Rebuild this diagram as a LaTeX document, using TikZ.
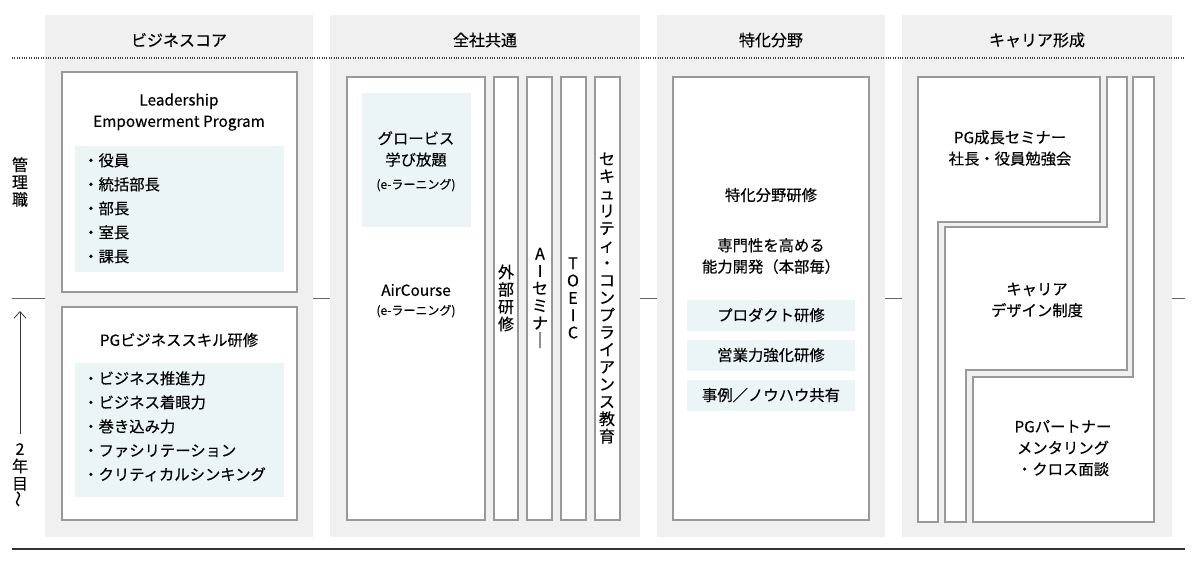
\documentclass[tikz,border=0pt]{standalone}
\usepackage{fontspec}
\usetikzlibrary{arrows.meta}
\setmainfont{Noto Sans CJK JP}[FakeBold=0.35]
\begin{document}
\begin{tikzpicture}[x=0.75pt,y=-0.75pt,
  colbg/.style={fill=black!6,draw=none},
  wbox/.style={fill=white,draw=black!40,line width=0.9pt},
  tbox/.style={fill=teal!8,draw=none},
  txt/.style={font=\fontsize{11.5}{16}\selectfont,align=center,inner sep=0pt},
  bl/.style={font=\fontsize{11.5}{18}\selectfont,align=left,anchor=north west,inner sep=0pt},
  sm/.style={font=\fontsize{9}{10}\selectfont,inner sep=0pt},
  vt/.style={font=\fontsize{12}{13}\selectfont,align=center,inner sep=0pt},
  hd/.style={font=\fontsize{12}{14}\selectfont,inner sep=0pt}]
\useasboundingbox (0,0) rectangle (1200,562);
\fill[white] (0,0) rectangle (1200,562);
% column backgrounds
\fill[colbg] (45,15) rectangle (313,537);
\fill[colbg] (330,15) rectangle (640,537);
\fill[colbg] (657,15) rectangle (885,537);
\fill[colbg] (902,15) rectangle (1172,537);
\node[hd] (h1) at (179,40) {ビジネスコア};
\node[hd] (h2) at (485,40) {全社共通};
\node[hd] (h3) at (771,40) {特化分野};
\node[hd] (h4) at (1037,40) {キャリア形成};
\draw[black!75,line width=0.8pt,densely dotted] (12,58) -- (1185,58);
\draw[black!80,line width=0.8pt] (12,549) -- (1185,549);
\foreach \a/\b in {12/45,313/330,640/657,885/902,1172/1185}
  \draw[black!60,line width=0.7pt] (\a,298) -- (\b,298);
% left labels
\node[vt] (kan) at (20,182) {管\\理\\職};
\coordinate (arB) at (20,434);
\coordinate (arT) at (20,311);
\draw[black!80,line width=0.6pt,-{Straight Barb[length=5pt,width=9pt]}] (arB) -- (arT);
\node[vt] (nen) at (20,475) {2\\年\\目\\\rotatebox{90}{～}};
% column 1
\draw[wbox] (62,72) rectangle (297,292);
\node[txt] (lep) at (179,112) {Leadership\\Empowerment Program};
\fill[tbox] (75,146) rectangle (284,272);
\node[bl] (l1) at (83,153) {・役員\\・統括部長\\・部長\\・室長\\・課長};
\draw[wbox] (62,307) rectangle (297,520);
\node[txt] (pgb) at (179,340) {PGビジネススキル研修};
\fill[tbox] (75,363) rectangle (284,497);
\node[bl] (l2) at (83,371) {・ビジネス推進力\\・ビジネス着眼力\\・巻き込み力\\・ファシリテーション\\・クリティカルシンキング};
% column 2
\draw[wbox] (347,77) rectangle (485,520);
\fill[tbox] (362,93) rectangle (471,227);
\node[txt] (glo) at (416,149) {グロービス\\学び放題};
\node[sm] (glo2) at (416,185) {(e-ラーニング)};
\node[txt] (air) at (416,290) {AirCourse};
\node[sm] (air2) at (416,311) {(e-ラーニング)};
\foreach \a/\b in {494/518,527/552,561/586,595/620}
  \draw[wbox] (\a,77) rectangle (\b,520);
\node[vt] (v1) at (506,298) {外\\部\\研\\修};
\node[vt] (v2) at (540,298) {A\\I\\セ\\ミ\\ナ\\｜};
\node[vt] (v3) at (573,298) {T\\O\\E\\I\\C};
\node[vt] (v4) at (607,298) {セ\\キ\\ュ\\リ\\テ\\ィ\\・\\コ\\ン\\プ\\ラ\\イ\\ア\\ン\\ス\\教\\育};
% column 3
\draw[wbox] (673,77) rectangle (869,520);
\node[txt] (tok) at (771,195) {特化分野研修};
\node[txt] (sen) at (771,256) {専門性を高める\\能力開発（本部毎）};
\fill[tbox] (687,300) rectangle (855,331);
\fill[tbox] (687,340) rectangle (855,371);
\fill[tbox] (687,380) rectangle (855,411);
\node[txt] (p1) at (771,315) {プロダクト研修};
\node[txt] (p2) at (771,355) {営業力強化研修};
\node[txt] (p3) at (771,395) {事例／ノウハウ共有};
% column 4
\draw[wbox] (918,77) -- (1100,77) -- (1100,222) -- (938,222) -- (938,522) -- (918,522) -- cycle;
\draw[wbox] (1107,77) -- (1127,77) -- (1127,370) -- (966,370) -- (966,522) -- (945,522) -- (945,227) -- (1107,227) -- cycle;
\draw[wbox] (1133,77) -- (1154,77) -- (1154,522) -- (973,522) -- (973,377) -- (1133,377) -- cycle;
\node[txt] (c1) at (1010,148) {PG成長セミナー\\社長・役員勉強会};
\node[txt] (c2) at (1037,300) {キャリア\\デザイン制度};
\node[txt] (c3) at (1063,448) {PGパートナー\\メンタリング\\・クロス面談};
\end{tikzpicture}
\end{document}
